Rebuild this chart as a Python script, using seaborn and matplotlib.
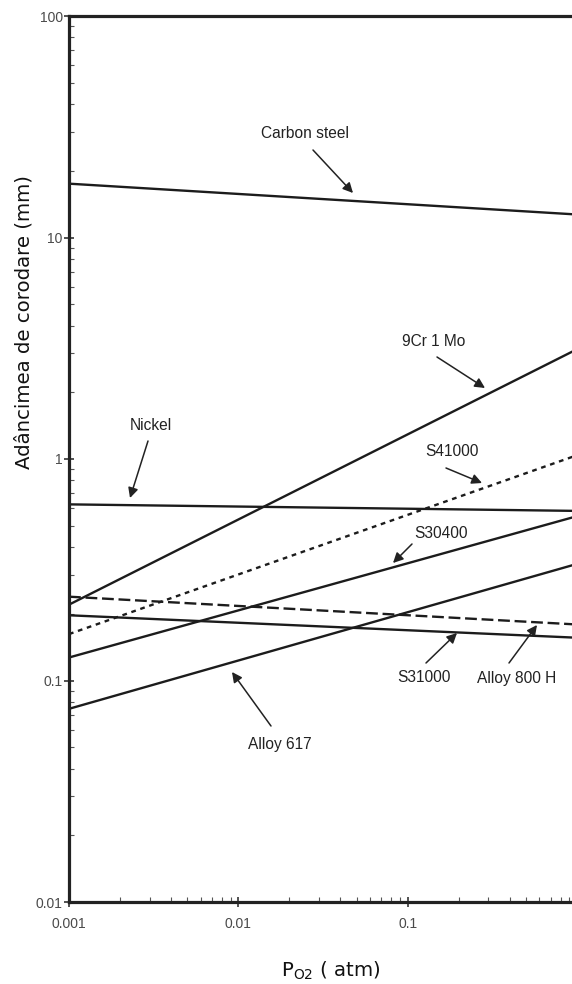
import numpy as np
import pandas as pd
import matplotlib
matplotlib.use("Agg")
import matplotlib.pyplot as plt
from matplotlib import font_manager
import seaborn as sns

# --- data: corrosion depth (mm) at the two ends of each line ---
p_o2 = [0.001, 1.0]
carbon_steel = [17.5, 12.7]
nickel = [0.624, 0.583]
cr9_mo1 = [0.220, 3.13]
s41000 = [0.162, 1.04]
s30400 = [0.127, 0.552]
alloy_617 = [0.0745, 0.336]
alloy_800h = [0.239, 0.179]
s31000 = [0.197, 0.156]

x_ticks = [0.001, 0.01, 0.1]
x_ticklabels = ["0.001", "0.01", "0.1"]
y_ticks = [0.01, 0.1, 1, 10, 100]
y_ticklabels = ["0.01", "0.1", "1", "10", "100"]

sns.set_style("white")
plt.rcParams["mathtext.default"] = "regular"

names = {f.name for f in font_manager.fontManager.ttflist}
if "Liberation Sans Narrow" in names:
    ann_font, ann_size = "Liberation Sans Narrow", 13
else:
    ann_font, ann_size = "Liberation Sans", 11.2

W, H = 572, 984
fig = plt.figure(figsize=(W / 100, H / 100), dpi=100)
# axes run a little past the right edge, like the cropped original
ax = fig.add_axes([69 / W, (H - 902) / H, 508 / W, 886 / H])

ink = "#1c1c1c"
lw = 1.7
series = [
    (carbon_steel, "-"),
    (nickel, "-"),
    (cr9_mo1, "-"),
    (s41000, (0, (2, 2))),
    (s30400, "-"),
    (alloy_617, "-"),
    (alloy_800h, (0, (5, 2))),
    (s31000, "-"),
]
for vals, ls in series:
    sns.lineplot(x=p_o2, y=vals, ax=ax, color=ink, lw=lw, linestyle=ls)

ax.set_xscale("log")
ax.set_yscale("log")
ax.set_xlim(0.001, 1)
ax.set_ylim(0.01, 100)

ax.set_xticks(x_ticks)
ax.set_xticklabels(x_ticklabels)
ax.set_yticks(y_ticks)
ax.set_yticklabels(y_ticklabels)
for lab in ax.get_xticklabels() + ax.get_yticklabels():
    lab.set_fontfamily("Liberation Sans")
    lab.set_fontsize(10)
    lab.set_color("#4a4a4a")

ax.tick_params(which="both", bottom=True, left=True, top=False, right=False)
ax.tick_params(which="major", direction="inout", length=7, width=1.2,
               color="#333333")
ax.tick_params(axis="x", which="major", pad=7)
ax.tick_params(axis="y", which="major", pad=1)
ax.tick_params(which="minor", direction="in", length=3.5, width=0.8,
               color="#555555")
ax.tick_params(which="minor", labelbottom=False, labelleft=False)

for side in ["left", "bottom", "top"]:
    ax.spines[side].set_linewidth(2.3)
    ax.spines[side].set_color("#222222")
ax.spines["right"].set_visible(False)
ax.set_xlabel("")
ax.set_ylabel("")


def axf(px, py):
    return ((px - 69) / 508, (902 - py) / 886)


labels = [
    ("Carbon steel", (305, 134), (313, 150), (353, 193)),
    ("9Cr 1 Mo", (434, 342), (437, 357), (485, 388)),
    ("Nickel", (151, 425), (148, 441), (130, 498)),
    ("S41000", (452, 452), (446, 468), (482, 483)),
    ("S30400", (441, 534), (412, 544), (393, 563)),
    ("S31000", (424, 678), (426, 663), (457, 633)),
    ("Alloy 800 H", (517, 678), (509, 663), (537, 625)),
    ("Alloy 617", (280, 744), (271, 726), (232, 672)),
]
for text, pos, start, tip in labels:
    ax.text(*axf(*pos), text, transform=ax.transAxes, ha="center",
            va="center", fontsize=ann_size, family=ann_font, color="#222222")
    ax.annotate("", xy=axf(*tip), xytext=axf(*start),
                xycoords="axes fraction", textcoords="axes fraction",
                arrowprops=dict(arrowstyle="-|>", mutation_scale=15, lw=1.1,
                                color="#222222", shrinkA=0, shrinkB=0))

fig.text(24 / W, 1 - 322 / H, "Adâncimea de corodare (mm)", rotation=90,
         ha="center", va="center", fontsize=14.2, family="DejaVu Sans",
         color="#111111")
fig.text(331 / W, 1 - 971 / H, "P$_{O2}$ ( atm)", ha="center", va="center",
         fontsize=14.2, family="DejaVu Sans", color="#111111")

fig.savefig("out.png", dpi=100)
